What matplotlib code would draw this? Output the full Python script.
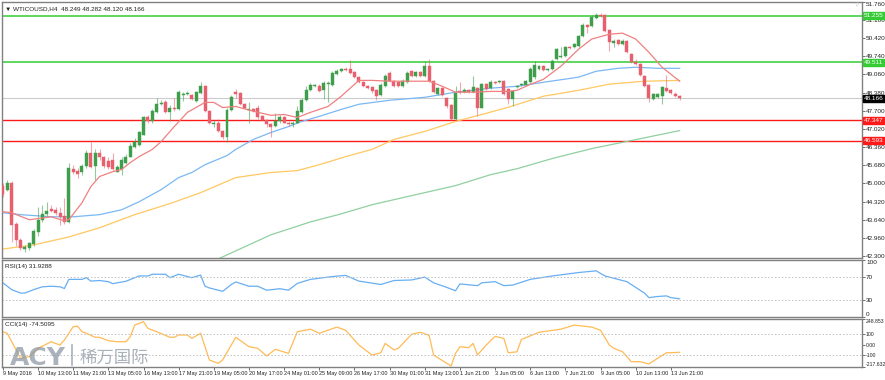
import matplotlib
matplotlib.use("Agg")
import matplotlib.pyplot as plt
from matplotlib.lines import Line2D
from matplotlib import font_manager as fm

names = {f.name for f in fm.fontManager.ttflist}
NARROW = 'Liberation Sans Narrow' in names
plt.rcParams['font.family'] = (['Liberation Sans Narrow'] if NARROW else []) + ['Liberation Sans', 'DejaVu Sans']

# ---------------- data ----------------
opens = [44.92,44.77,45.03,43.50,42.90,42.56,42.60,42.75,43.20,43.65,
         43.87,44.06,44.02,43.91,43.80,43.57,45.55,45.48,45.41,45.67,
         46.15,45.67,46.12,45.97,45.82,45.89,45.44,45.55,45.78,46.00,
         46.37,46.45,46.82,47.46,47.31,47.65,47.95,48.02,47.65,47.83,
         47.76,48.28,48.32,48.28,48.06,48.36,48.62,47.69,47.20,47.24,
         46.97,46.75,47.72,48.40,48.36,47.95,47.72,47.76,47.80,47.50,
         47.35,47.20,47.16,47.31,47.46,47.27,47.20,47.27,47.65,48.10,
         48.47,48.62,48.62,48.47,48.69,48.66,49.07,49.18,49.26,49.26,
         49.14,48.96,48.77,48.62,48.58,48.47,48.28,48.62,49.11,48.81,
         48.77,48.62,48.77,49.18,48.99,49.14,48.99,49.37,48.81,48.32,
         48.55,48.17,47.91,47.39,48.43,48.40,48.47,48.40,48.55,47.83,
         48.69,48.55,48.77,48.77,48.81,48.51,48.13,48.58,48.66,48.66,
         48.77,48.96,49.26,49.37,49.22,49.26,49.63,49.70,49.74,50.08,
         50.08,50.12,50.49,50.90,50.86,51.16,51.27,51.27,50.71,50.23,
         50.34,50.19,50.30,49.82,49.52,49.44,48.99,48.66,48.13,48.21,
         48.25,48.55,48.47,48.32,48.249]
closes = [44.62,45.03,43.46,42.90,42.60,42.64,42.79,43.24,43.65,43.87,
          43.98,43.98,43.91,43.76,43.57,45.59,45.44,45.37,45.67,46.15,
          45.63,46.12,45.97,45.67,45.63,45.55,45.63,45.89,46.00,46.41,
          46.56,46.90,47.46,47.31,47.69,47.95,47.98,47.65,47.83,47.76,
          48.40,48.32,48.36,48.13,48.40,48.62,47.69,47.24,47.27,46.94,
          46.75,47.72,48.21,48.32,47.95,47.80,47.76,47.69,47.46,47.35,
          47.20,47.12,47.31,47.46,47.27,47.20,47.27,47.69,48.10,48.47,
          48.66,48.66,48.43,48.73,48.73,49.11,49.18,49.26,49.22,49.11,
          48.96,48.77,48.62,48.55,48.43,48.25,48.66,48.99,48.81,48.62,
          48.62,48.81,49.11,48.99,49.14,48.99,49.37,48.81,48.40,48.55,
          48.28,47.87,47.39,48.36,48.40,48.47,48.40,48.58,47.83,48.69,
          48.51,48.77,48.73,48.81,48.32,48.13,48.43,48.62,48.69,48.81,
          49.26,49.40,49.37,49.22,49.26,49.55,50.00,49.74,50.08,50.04,
          50.19,50.49,50.90,50.83,51.20,51.27,51.24,50.68,50.26,50.30,
          50.19,50.30,49.89,49.52,49.44,49.03,48.62,48.17,48.32,48.32,
          48.58,48.43,48.36,48.25,48.166]
highs = [45.03,45.14,45.11,43.57,42.98,42.71,42.83,43.31,44.13,44.21,
         44.32,44.21,44.13,44.13,44.47,45.78,45.70,45.59,45.74,46.23,
         46.53,46.27,46.30,46.04,45.97,46.15,45.70,45.97,46.08,46.49,
         46.68,46.97,47.50,47.54,47.76,48.17,48.10,48.10,47.91,48.17,
         48.47,48.40,48.43,48.32,48.43,48.77,48.66,47.72,47.35,47.39,
         47.01,47.80,48.28,48.51,48.40,47.98,48.02,47.83,47.91,47.54,
         47.39,47.24,47.61,47.54,47.50,47.31,47.31,47.87,48.17,48.62,
         48.73,48.69,48.69,48.81,48.81,49.18,49.26,49.29,49.33,49.59,
         49.18,48.99,48.81,48.66,48.62,48.51,48.73,49.07,49.18,48.84,
         48.81,48.88,49.18,49.22,49.18,49.18,49.55,49.63,48.84,48.58,
         48.58,48.21,47.95,48.62,48.77,48.55,48.51,48.99,48.58,48.73,
         48.73,48.84,48.81,48.84,48.84,48.55,48.47,48.66,48.73,48.84,
         49.33,49.55,49.40,49.40,49.29,49.63,50.04,50.08,50.12,50.12,
         50.23,50.53,50.98,50.93,51.27,51.35,51.35,51.31,50.75,50.38,
         50.38,50.38,50.34,49.85,49.63,49.48,49.03,48.69,48.36,48.36,
         48.62,49.03,48.51,48.40,48.282]
lows = [44.51,44.73,42.83,42.68,42.53,42.45,42.53,42.68,43.05,43.57,
        43.80,43.95,43.84,43.46,43.50,43.54,45.37,45.22,45.33,45.59,
        45.59,45.14,45.89,45.59,45.55,45.48,45.41,45.33,45.74,45.97,
        46.34,46.41,46.79,47.27,47.27,47.61,47.91,47.61,47.31,47.69,
        47.72,48.06,48.28,48.10,48.02,48.32,47.65,47.20,47.12,46.90,
        46.64,46.53,47.69,48.17,47.91,47.76,47.24,47.65,47.42,47.31,
        47.12,46.75,47.12,47.27,47.24,47.16,47.09,47.24,47.61,48.06,
        48.43,48.58,48.40,48.13,48.02,48.62,49.03,49.14,49.18,49.07,
        48.92,48.73,48.58,48.51,48.36,48.10,48.25,48.58,48.77,48.58,
        48.58,48.58,48.73,48.96,48.96,48.96,48.96,48.77,48.36,48.28,
        48.25,47.83,47.35,47.35,48.32,48.36,48.36,48.36,47.50,47.80,
        48.47,48.51,48.69,48.73,48.28,47.95,47.87,48.55,48.62,48.62,
        48.73,48.88,49.22,49.18,49.18,49.22,49.59,49.67,49.70,50.00,
        50.04,50.08,50.45,50.60,50.83,51.12,51.20,50.64,49.93,50.08,
        50.15,50.15,49.85,49.48,49.40,48.99,48.58,48.02,48.10,48.17,
        47.95,48.40,48.32,48.21,48.120]

# moving averages read at sample bars
ma_red_idx = [0,2,6,11,14,15,18,20,22,25,27,29,31,34,36,39,42,46,48,50,53,57,61,64,67,70,74,
              77,81,84,88,92,97,100,103,107,111,115,117,120,123,127,131,134,138,141,144,147,150,154]
ma_red_val = [43.95,43.91,43.65,43.76,43.61,43.65,44.28,44.88,45.26,45.44,45.52,45.78,46.00,46.27,
              46.56,47.12,47.65,48.02,48.02,47.83,47.87,47.69,47.54,47.57,47.46,47.65,47.87,
              48.25,48.84,48.84,48.81,48.81,48.81,48.62,48.40,48.40,48.43,48.43,48.47,48.69,48.88,
              49.37,50.00,50.38,50.56,50.60,50.38,49.89,49.33,48.81]
ma_blue_idx = [0,4,11,16,22,27,31,36,40,43,46,51,53,57,61,65,68,72,77,81,88,96,103,111,117,123,
               131,135,140,144,149,154]
ma_blue_val = [43.91,43.84,43.76,43.76,43.84,44.02,44.32,44.77,45.22,45.41,45.70,46.04,46.27,46.64,
               46.90,47.12,47.31,47.50,47.76,47.95,48.10,48.21,48.40,48.55,48.62,48.77,48.96,49.18,
               49.29,49.33,49.29,49.29]
ma_orange_idx = [0,7,15,22,30,38,45,53,61,67,72,78,84,89,96,103,109,115,123,131,138,146,154]
ma_orange_val = [42.56,42.71,43.01,43.35,43.84,44.25,44.66,45.22,45.41,45.48,45.70,46.00,46.27,
                 46.64,46.94,47.31,47.57,47.84,48.25,48.47,48.70,48.81,48.84]
ma_green_idx = [45,49,61,70,77,84,92,103,111,117,125,134,143,154]
ma_green_val = [42.08,42.19,43.09,43.57,43.87,44.21,44.51,44.92,45.33,45.55,45.93,46.30,46.60,46.97]

rsi_idx = [0,2,4,5,7,9,11,13,14,15,18,19,20,22,24,25,28,31,33,34,37,38,39,40,43,45,46,47,50,
           52,53,56,58,60,63,65,67,70,75,78,81,86,89,93,96,98,101,103,104,108,109,112,114,116,
           120,125,128,131,135,137,138,142,144,146,147,149,151,152,154]
rsi_val = [60,48,42,42,48,53,54,53,50,66,66,69,63,64,62,58.5,62.7,72,72,75,75,69,72,75,69,73.6,
           54,51,45,57,61.5,54,54,47,49.6,47,59,66,71,73,63,57,64,65,70,60,52,46,58,55,60,62,55,
           56,66,72,75,78,81,72,70,62,52,42,34,36,37,34,31.93]

cci_idx = [0,1,3,4,6,8,11,13,14,16,17,18,19,21,22,24,26,28,29,30,32,33,35,38,39,40,42,43,45,
           47,49,50,53,56,58,60,62,65,67,70,72,76,78,81,84,86,87,89,90,93,95,97,98,102,103,104,
           106,107,108,110,112,114,115,117,118,122,127,130,134,136,138,139,141,143,145,147,149,
           151,152,154]
cci_val = [125,110,-52,-133,-117,-36,28,-4,45,174,180,125,110,71,71,38,28,28,77,190,223,158,
           125,71,71,93,93,61,110,-150,-182,-150,71,-20,-36,-111,-46,-85,125,150,110,170,140,-4,
           -101,-79,12,-52,-36,100,120,90,-101,-208,-85,-20,-30,12,-101,-4,80,60,-79,-70,50,120,
           150,190,170,140,-4,-36,-69,-166,-166,-188,-133,-79,-79,-74.5]

levels_green = [51.255, 49.511]
levels_red = [47.347, 46.593]
last_price = 48.166

price_ticks = [51.760, 51.100, 50.420, 49.740, 49.060, 48.380, 47.700, 47.020, 46.360,
               45.680, 45.000, 44.320, 43.640, 42.960, 42.300]
date_labels = ["9 May 2016", "10 May 13:00", "11 May 21:00", "13 May 05:00", "16 May 13:00",
               "17 May 21:00", "19 May 05:00", "20 May 17:00", "24 May 01:00", "25 May 09:00",
               "26 May 17:00", "30 May 01:00", "31 May 13:00", "1 Jun 21:00", "3 Jun 05:00",
               "6 Jun 13:00", "7 Jun 21:00", "9 Jun 05:00", "10 Jun 13:00", "13 Jun 21:00"]
date_idx = list(range(0, 8 * len(date_labels), 8))

# ---------------- figure ----------------
W, H = 885, 380
fig = plt.figure(figsize=(W / 100, H / 100), dpi=100)
fig.patch.set_facecolor('white')

def rect(x0, y0, x1, y1):
    return [x0 / W, 1 - y1 / H, (x1 - x0) / W, (y1 - y0) / H]

ax = fig.add_axes(rect(2, 2, 862, 258))
ax_rsi = fig.add_axes(rect(2, 260, 862, 317), sharex=ax)
ax_cci = fig.add_axes(rect(2, 319, 862, 367), sharex=ax)

FSX = 4.8 if NARROW else 4.0   # date labels
FSY = 4.6                      # value labels / titles
TXT = '#222222'
GREEN_B = '#3f9e4b'
RED_B = '#e8606e'

for a in (ax, ax_rsi, ax_cci):
    for s in a.spines.values():
        s.set_color('#808080')
        s.set_linewidth(1.0)
    a.yaxis.tick_right()
    a.tick_params(axis='y', direction='out', length=2, width=0.6, labelsize=FSY,
                  colors='#555555', labelcolor=TXT, pad=1)
    a.tick_params(axis='x', length=0)
    a.set_facecolor('white')

ax.set_xlim(-0.2, 195.5)

# candles
n = len(opens)
for i in range(n):
    o, c, h, l = opens[i], closes[i], highs[i], lows[i]
    col = GREEN_B if c >= o else RED_B
    ax.vlines(i, l, h, color=col, lw=0.8, alpha=0.55, zorder=3)
    lo, hi = min(o, c), max(o, c)
    ax.bar(i, max(hi - lo, 0.025), bottom=lo, width=0.68, color=col, edgecolor=col,
           lw=0.3, zorder=4)

# MAs
ax.plot(ma_green_idx, ma_green_val, color='#8fd0a0', lw=0.9, zorder=2)
ax.plot(ma_orange_idx, ma_orange_val, color='#ffc861', lw=0.9, zorder=2)
ax.plot(ma_blue_idx, ma_blue_val, color='#7ab8f5', lw=0.9, zorder=2)
ax.plot(ma_red_idx, ma_red_val, color='#f08080', lw=0.9, zorder=5)

# horizontal levels
for v in levels_green:
    ax.axhline(v, color='#33cc33', lw=1.1, zorder=1)
for v in levels_red:
    ax.axhline(v, color='#ff1a1a', lw=1.0, zorder=1)
ax.axhline(last_price, color='#cccccc', lw=0.8, zorder=1)

ax.set_ylim(42.225, 51.76)
ax.set_yticks(price_ticks)
ax.set_yticklabels([f"{v:.3f}" for v in price_ticks])
ax.get_yticklabels()[0].set_va('top')
plt.setp(ax.get_xticklabels(), visible=False)

# level boxes on the price axis
def box(v, fc):
    ax.annotate(f"{v:.3f}", xy=(1.0, v), xycoords=('axes fraction', 'data'),
                xytext=(1.5, 0), textcoords='offset points', fontsize=FSY, color='white',
                va='center', ha='left', annotation_clip=False, zorder=10,
                bbox=dict(boxstyle='square,pad=0.12', fc=fc, ec=fc))
for v in levels_green:
    box(v, '#33cc33')
box(last_price, '#000000')
for v in levels_red:
    box(v, '#ff1a1a')

ax.text(0.003, 0.985, "\u25bc WTICOUSD,H4  48.249 48.282 48.120 48.166", transform=ax.transAxes,
        fontsize=FSY, color=TXT, va='top', ha='left')
ax.text(0.997, 0.998, "\u25bd", transform=ax.transAxes, fontsize=4, color='#999999',
        va='top', ha='right')

# RSI
ax_rsi.plot(rsi_idx, rsi_val, color='#68aef2', lw=0.9)
for v in (70, 30):
    ax_rsi.axhline(v, color='#c0c0c0', lw=0.7, ls=(0, (1.5, 2)))
ax_rsi.set_ylim(0, 100)
ax_rsi.set_yticks([100, 70, 30, 0])
ax_rsi.set_yticklabels(["100", "70", "30", "0"])
ax_rsi.get_yticklabels()[0].set_va('top')
ax_rsi.get_yticklabels()[3].set_va('bottom')
plt.setp(ax_rsi.get_xticklabels(), visible=False)
ax_rsi.text(0.003, 0.93, "RSI(14) 31.9288", transform=ax_rsi.transAxes, fontsize=FSY,
            color=TXT, va='top', ha='left')

# CCI
ax_cci.plot(cci_idx, cci_val, color='#ffbb55', lw=0.9)
for v in (100, -100):
    ax_cci.axhline(v, color='#c0c0c0', lw=0.7, ls=(0, (1.5, 2)))
ax_cci.set_ylim(-217.632, 248.853)
ax_cci.set_yticks([248.853, 100, 0, -100, -217.632])
ax_cci.set_yticklabels(["248.853", "100", "0.00", "-100", "-217.632"])
ax_cci.get_yticklabels()[0].set_va('top')
ax_cci.get_yticklabels()[4].set_va('bottom')
ax_cci.tick_params(axis='y', labelsize=FSY * 0.8, pad=0.5)
ax_cci.text(0.003, 0.93, "CCI(14) -74.5095", transform=ax_cci.transAxes, fontsize=FSY,
            color=TXT, va='top', ha='left')

ax_cci.set_xticks(date_idx)
ax_cci.set_xticklabels(date_labels)
ax_cci.tick_params(axis='x', direction='out', length=2, width=0.6, labelsize=FSX,
                   colors='#555555', labelcolor=TXT, pad=1)
for t in ax_cci.get_xticklabels():
    t.set_ha('left')

# watermark
wm = '#8e98a4'
fig.text(10 / W, 1 - 365 / H, "ACY", fontsize=18, fontweight='bold', color=wm, alpha=0.75,
         va='baseline', ha='left', family=['DejaVu Sans'])
fig.add_artist(Line2D([72 / W, 72 / W], [1 - 365 / H, 1 - 345 / H], color=wm, lw=1.2, alpha=0.75))
fig.text(80 / W, 1 - 363 / H, "稀万国际", fontsize=12.5, color=wm, alpha=0.75,
         va='baseline', ha='left', family=['Noto Sans CJK SC', 'DejaVu Sans'])

fig.savefig("out.png", dpi=100, facecolor='white')
